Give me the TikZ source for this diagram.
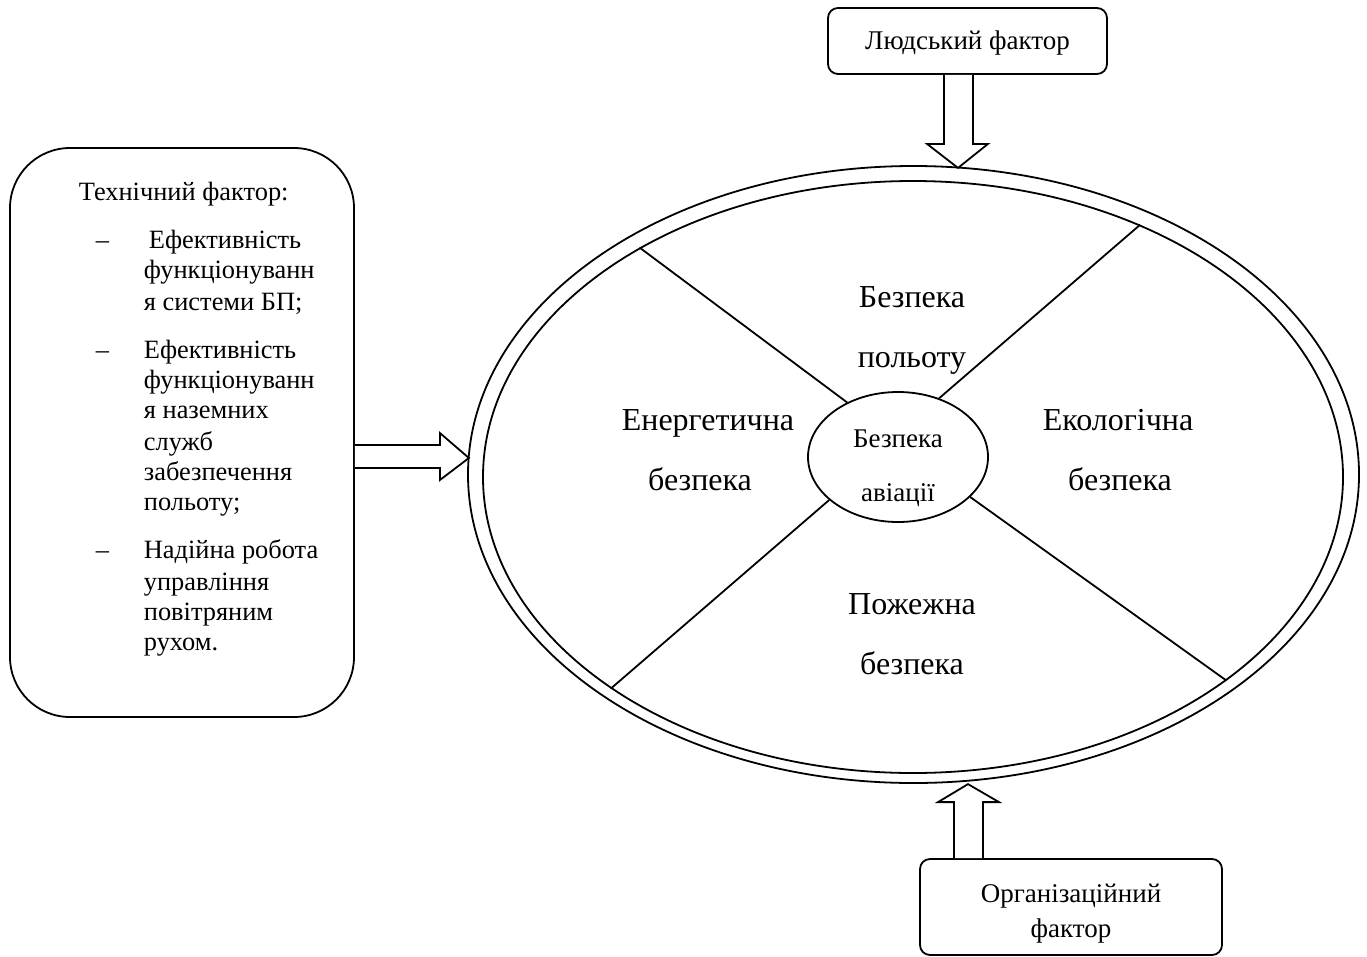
\documentclass[tikz,border=0pt]{standalone}
\usepackage{fontspec}
\setmainfont{Liberation Serif}
\usetikzlibrary{calc,shapes.geometric}
\begin{document}
\begin{tikzpicture}[x=1pt,y=-1pt,line width=1.8pt,
  rbox/.style={draw,rounded corners=10pt,inner sep=0pt},
  ell/.style={draw,ellipse,inner sep=0pt},
  ln/.style={anchor=base,inner sep=0pt},
  mid/.style={ln,font=\fontsize{27}{30}\selectfont},
  lw/.style={anchor=base west,inner sep=0pt,font=\fontsize{26.4}{30}\selectfont},
  big/.style={ln,font=\fontsize{32}{36}\selectfont},
  blockarrow/.style={draw,fill=white,line join=miter}]
\useasboundingbox (0,0) rectangle (1367,956);

% ellipses
\node[ell,minimum width=891pt,minimum height=617pt] (outer) at (913.5,474.5) {};
\node[ell,minimum width=860pt,minimum height=592pt] (inner) at (913,477) {};
\node[ell,minimum width=180pt,minimum height=130pt] (core) at (898,457) {};

% dividing lines
\draw (inner.140.9) -- (core.133.3);
\draw (inner.48.4) -- (core.55.4);
\draw (inner.215.1) -- (core.212.3);
\draw (inner.327) -- (core.331.7);

% core text
\node[mid] (c1) at (898,447) {Безпека};
\node[mid] (c2) at (898,501) {авіації};

% sector labels
\node[big] (s1a) at (912,307) {Безпека};
\node[big] (s1b) at (912,367) {польоту};
\node[big] (s2a) at (708,430) {Енергетична};
\node[big] (s2b) at (700,490) {безпека};
\node[big] (s3a) at (1118,430) {Екологічна};
\node[big] (s3b) at (1120,490) {безпека};
\node[big] (s4a) at (912,614) {Пожежна};
\node[big] (s4b) at (912,674) {безпека};

% human factor
\node[rbox,minimum width=279pt,minimum height=66pt] (human) at (967.5,41) {};
\node[mid] (htext) at (967.5,49) {Людський фактор};
\draw[blockarrow] ($(human.south)+(-23.5,0)$) -- ($(human.south)+(-23.5,69)$)
  -- ($(human.south)+(-40.5,69)$) -- ($(human.south)+(-9.5,93)$)
  -- ($(human.south)+(20.5,69)$) -- ($(human.south)+(5.5,69)$)
  -- ($(human.south)+(5.5,0)$);

% organisational factor
\node[rbox,minimum width=302pt,minimum height=96pt] (org) at (1071,907) {};
\node[mid] (o1) at (1071,902) {Організаційний};
\node[mid] (o2) at (1071,937) {фактор};
\draw[blockarrow] ($(org.north)+(-117,0)$) -- ($(org.north)+(-117,-56)$)
  -- ($(org.north)+(-133,-56)$) -- ($(org.north)+(-103,-74)$)
  -- ($(org.north)+(-72,-56)$) -- ($(org.north)+(-88,-56)$)
  -- ($(org.north)+(-88,0)$);

% technical factor
\node[draw,rounded corners=60pt,inner sep=0pt,minimum width=344pt,minimum height=569pt] (tech) at (182,432.5) {};
\draw[blockarrow] ($(tech.east)+(0,12.5)$) -- ($(tech.east)+(85,12.5)$)
  -- ($(tech.east)+(85,0.5)$) -- ($(tech.east)+(114,25.5)$)
  -- ($(tech.east)+(85,47.5)$) -- ($(tech.east)+(85,35.5)$)
  -- ($(tech.east)+(0,35.5)$);

\node[lw] (t0) at (78,200) {Технічний фактор:};
\node[lw] (d1) at (95,248) {–};
\node[lw] (t1) at (148,248) {Ефективність};
\node[lw] (t2) at (143,278) {функціонуванн};
\node[lw] (t3) at (143,310) {я системи БП;};
\node[lw] (d2) at (95,358) {–};
\node[lw] (t4) at (143,358) {Ефективність};
\node[lw] (t5) at (143,388) {функціонуванн};
\node[lw] (t6) at (143,418) {я наземних};
\node[lw] (t7) at (143,450) {служб};
\node[lw] (t8) at (143,480) {забезпечення};
\node[lw] (t9) at (143,510) {польоту;};
\node[lw] (d3) at (95,558) {–};
\node[lw] (t10) at (143,558) {Надійна робота};
\node[lw] (t11) at (143,590) {управління};
\node[lw] (t12) at (143,620) {повітряним};
\node[lw] (t13) at (143,650) {рухом.};
\end{tikzpicture}
\end{document}
